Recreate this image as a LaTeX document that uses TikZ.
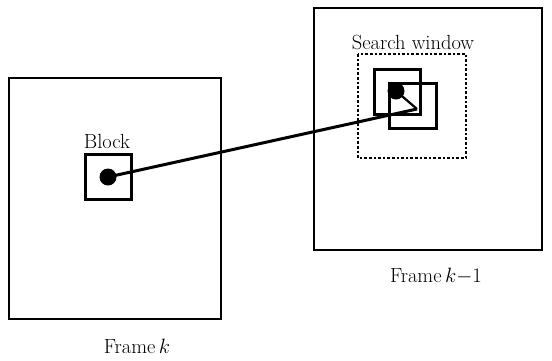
\documentclass[tikz,border=0pt]{standalone}
\usetikzlibrary{arrows.meta}
\begin{document}
\begin{tikzpicture}[x=1pt,y=-1pt,
  frame/.style={draw, line width=2.8pt, inner sep=0pt},
  blk/.style={draw, line width=3pt, inner sep=0pt},
  dot/.style={circle, fill=black, inner sep=0pt, minimum size=17pt},
  lbl/.style={font=\fontsize{20.5}{24}\selectfont, inner sep=0pt},
  vec/.style={line width=3pt}]
\useasboundingbox (0,0) rectangle (552,360);
% frames
\draw[frame] (9,78) rectangle (221,319);
\draw[frame] (314,8) rectangle (542,250);
\node[lbl] (fk) at (137,346) {Frame\,$k$};
\node[lbl] (fk1) at (436,276) {Frame\,$k{-}1$};
% current block
\draw[blk] (85,154) rectangle (131,199);
\node[lbl] (blabel) at (107,141) {Block};
\node[dot] (bdot) at (108,177) {};
% search window
\draw[line width=2.6pt, dotted] (358,54) rectangle (466,158);
\node[lbl] (swlabel) at (413,42) {Search window};
\draw[blk] (374,69) rectangle (420,114);
\draw[blk] (389,83) rectangle (436,128);
\node[dot] (sdot) at (396,91) {};
% motion vector
\coordinate (corner) at (417,109);
\draw[vec] (bdot.center) -- (corner);
\draw[line width=2.2pt, -{Straight Barb[length=5pt,width=7pt]}] (corner) -- (sdot.center);
\end{tikzpicture}
\end{document}
